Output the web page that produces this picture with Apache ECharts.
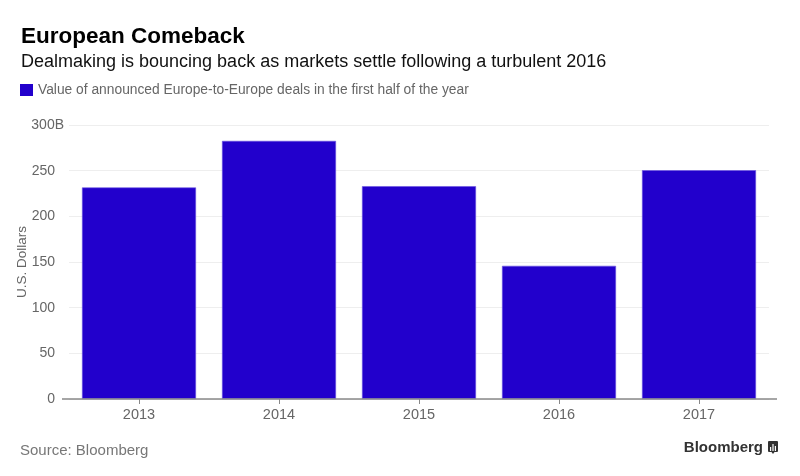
<!DOCTYPE html>
<html><head><meta charset="utf-8">
<script src="https://cdn.jsdelivr.net/npm/echarts@6/dist/echarts.min.js"></script>
<style>html,body{margin:0;padding:0;background:#fff}#c{width:800px;height:476px}</style>
</head><body><div id="c"></div>
<script>
const categories = ['2013', '2014', '2015', '2016', '2017'];
const dealValues = [231.6, 282.6, 233, 145.8, 250.5];
const yTicks = [0, 50, 100, 150, 200, 250, 300];
const seriesName = 'Value of announced Europe-to-Europe deals in the first half of the year';

const FONT = '"Liberation Sans", Arial, Helvetica, sans-serif';
const chart = echarts.init(document.getElementById('c'));
chart.setOption({
  animation: false,
  backgroundColor: '#fff',
  textStyle: { fontFamily: FONT },
  title: [
    { text: 'European Comeback', left: 16, top: 20, textStyle: { fontFamily: FONT, fontSize: 22.5, fontWeight: 'bold', color: '#000' } },
    { text: 'Dealmaking is bouncing back as markets settle following a turbulent 2016', left: 16, top: 48, textStyle: { fontFamily: FONT, fontSize: 18, fontWeight: 'normal', color: '#111' } },
    { text: 'Source: Bloomberg', left: 15, top: 438, textStyle: { fontFamily: FONT, fontSize: 15, fontWeight: 'normal', color: '#777' } }
  ],
  legend: {
    left: 15, top: 78, itemWidth: 13, itemHeight: 12, icon: 'rect',
    itemStyle: { borderWidth: 0 },
    textStyle: { fontFamily: FONT, fontSize: 13.8, color: '#666' },
    data: [seriesName]
  },
  grid: { left: 69, width: 700, top: 125, height: 274 },
  xAxis: {
    type: 'category', data: categories,
    axisLine: { show: false },
    axisTick: { show: true, alignWithLabel: true, length: 5, lineStyle: { color: '#888' } },
    axisLabel: { color: '#666', fontSize: 14.5, margin: 8, fontFamily: FONT }
  },
  yAxis: {
    type: 'value', min: 0, max: 300, interval: 50,
    name: 'U.S. Dollars', nameLocation: 'middle', nameGap: 40, nameMoveOverlap: false,
    nameTextStyle: { color: '#666', fontSize: 13.5, fontFamily: FONT },
    axisLine: { show: false }, axisTick: { show: false },
    splitLine: { lineStyle: { color: '#eeeeee', width: 1 } },
    axisLabel: {
      color: '#666', fontSize: 14, margin: 5, fontFamily: FONT,
      formatter: v => (v === yTicks[yTicks.length - 1] ? '{n|' + v + '}{b|B}' : '{n|' + v + '}{s|}'),
      rich: {
        n: { fontSize: 14, color: '#666', fontFamily: FONT },
        b: { fontSize: 14, color: '#666', fontFamily: FONT },
        s: { width: 9 }
      }
    }
  },
  series: [{
    name: seriesName, type: 'bar', data: dealValues, barWidth: 114,
    itemStyle: { color: '#2200cc', borderColor: '#6a52e0', borderWidth: 0.6 }
  }]
});

const p0 = chart.convertToPixel({ gridIndex: 0 }, [0, 0]);
chart.setOption({
  graphic: [
    { type: 'line', shape: { x1: 62, y1: p0[1], x2: 777, y2: p0[1] }, style: { stroke: '#888', lineWidth: 1.3 }, z: 10 },
    { type: 'text', right: 37, top: 440, style: { text: 'Bloomberg', fontFamily: FONT, fontSize: 15, fontWeight: 'bold', fill: '#333' } },
    { type: 'group', right: 22, top: 441, children: [
      { type: 'rect', shape: { x: 0, y: 0, width: 10, height: 11, r: 1 }, style: { fill: '#333' } },
      { type: 'polygon', shape: { points: [[3.5, 11], [6.5, 11], [5, 13]] }, style: { fill: '#333' } },
      { type: 'rect', shape: { x: 2, y: 6, width: 1.2, height: 4 }, style: { fill: '#fff' } },
      { type: 'rect', shape: { x: 4.4, y: 3, width: 1.2, height: 7 }, style: { fill: '#fff' } },
      { type: 'rect', shape: { x: 6.8, y: 5, width: 1.2, height: 5 }, style: { fill: '#fff' } }
    ]}
  ]
});
</script></body></html>
